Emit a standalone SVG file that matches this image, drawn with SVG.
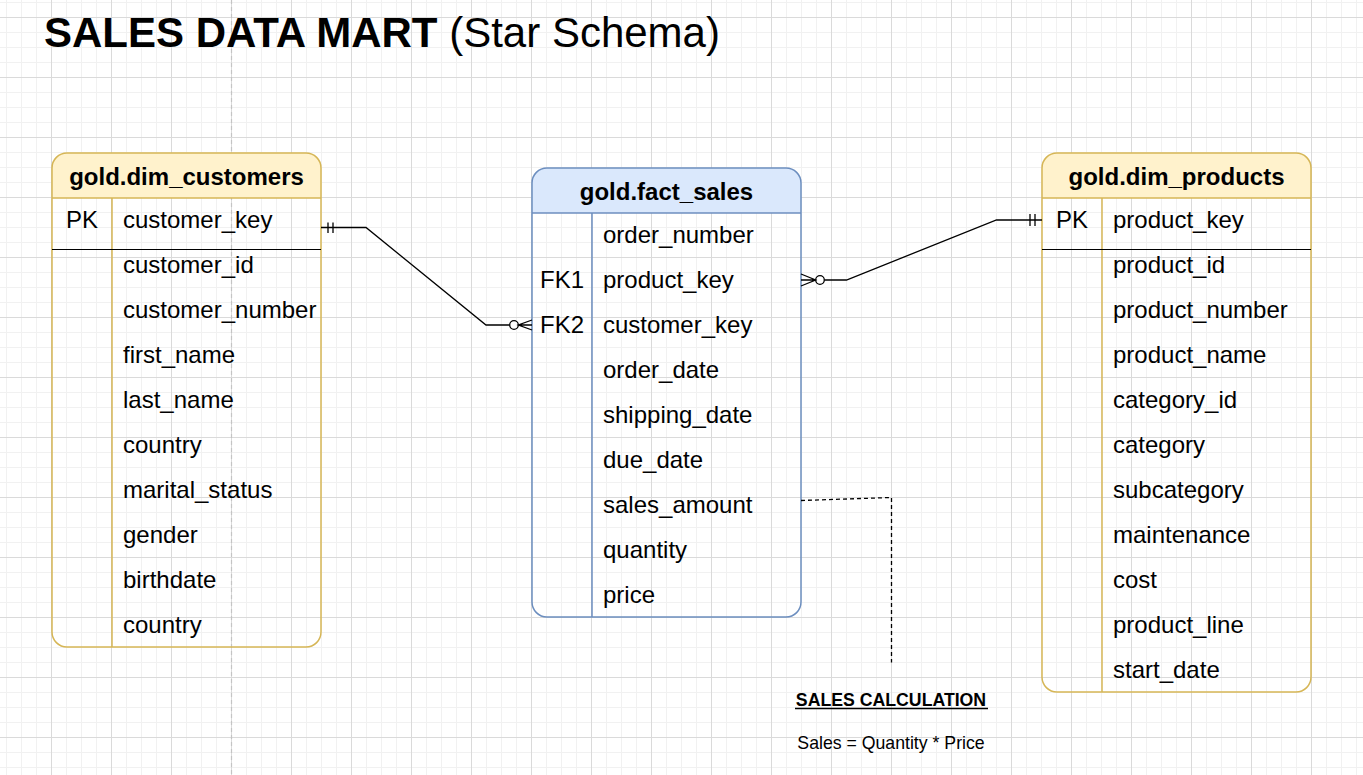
<svg xmlns="http://www.w3.org/2000/svg" width="1363" height="775" viewBox="0 0 1363 775">
  <defs>
    <pattern id="grid" x="51" y="17" width="60" height="60" patternUnits="userSpaceOnUse">
      <path d="M15.5 0V60M30.5 0V60M45.5 0V60M0 15.5H60M0 30.5H60M0 45.5H60" stroke="#f1f1f1" stroke-width="1" fill="none"/>
      <path d="M0.5 0V60M0 0.5H60" stroke="#dadada" stroke-width="1" fill="none"/>
    </pattern>
  </defs>
  <style>
    text { font-family: "Liberation Sans", Arial, sans-serif; fill: #000; }
    .hdr { font-size: 24px; font-weight: bold; text-anchor: middle; }
    .row { font-size: 24px; }
    .key { font-size: 24px; text-anchor: middle; }
    .y-head { fill: #fff2cc; stroke: none; }
    .y-line { fill: none; stroke: #d6b656; stroke-width: 1.5; }
    .b-head { fill: #dae8fc; stroke: none; }
    .b-line { fill: none; stroke: #6c8ebf; stroke-width: 1.5; }
    .sep { stroke: #000; stroke-width: 1.2; }
    .conn { fill: none; stroke: #000; stroke-width: 1.3; }
    .circ { fill: #fff; stroke: #000; stroke-width: 1.3; }
  </style>

  <rect width="1363" height="775" fill="#fff"/>
  <rect width="1363" height="775" fill="url(#grid)"/>
  <line x1="231.5" y1="0" x2="231.5" y2="775" stroke="#c4c4c4" stroke-width="1.2" stroke-dasharray="4 3"/>

  <g id="title">
    <text x="44" y="47" font-size="42"><tspan font-weight="bold">SALES DATA MART</tspan> (Star Schema)</text>
  </g>

  <g id="dim_customers">
    <path class="y-head" d="M52 198V168A15 15 0 0 1 67 153H306A15 15 0 0 1 321 168V198Z"/>
    <rect class="y-line" x="52" y="153" width="269" height="494" rx="15"/>
    <line class="y-line" x1="52" y1="198" x2="321" y2="198"/>
    <line class="y-line" x1="112" y1="198" x2="112" y2="647"/>
    <line class="sep" x1="52" y1="249.5" x2="321" y2="249.5"/>
    <text class="hdr" x="186.5" y="185">gold.dim_customers</text>
    <text class="key" x="82" y="228">PK</text>
    <text class="row" x="123" y="228">customer_key</text>
    <text class="row" x="123" y="273">customer_id</text>
    <text class="row" x="123" y="318">customer_number</text>
    <text class="row" x="123" y="363">first_name</text>
    <text class="row" x="123" y="408">last_name</text>
    <text class="row" x="123" y="453">country</text>
    <text class="row" x="123" y="498">marital_status</text>
    <text class="row" x="123" y="543">gender</text>
    <text class="row" x="123" y="588">birthdate</text>
    <text class="row" x="123" y="633">country</text>
  </g>

  <g id="fact_sales">
    <path class="b-head" d="M532 213V183A15 15 0 0 1 547 168H786A15 15 0 0 1 801 183V213Z"/>
    <rect class="b-line" x="532" y="168" width="269" height="449" rx="15"/>
    <line class="b-line" x1="532" y1="213" x2="801" y2="213"/>
    <line class="b-line" x1="592" y1="213" x2="592" y2="617"/>
    <text class="hdr" x="666.5" y="200">gold.fact_sales</text>
    <text class="row" x="603" y="243">order_number</text>
    <text class="key" x="562" y="288">FK1</text>
    <text class="row" x="603" y="288">product_key</text>
    <text class="key" x="562" y="333">FK2</text>
    <text class="row" x="603" y="333">customer_key</text>
    <text class="row" x="603" y="378">order_date</text>
    <text class="row" x="603" y="423">shipping_date</text>
    <text class="row" x="603" y="468">due_date</text>
    <text class="row" x="603" y="513">sales_amount</text>
    <text class="row" x="603" y="558">quantity</text>
    <text class="row" x="603" y="603">price</text>
  </g>

  <g id="dim_products">
    <path class="y-head" d="M1042 198V168A15 15 0 0 1 1057 153H1296A15 15 0 0 1 1311 168V198Z"/>
    <rect class="y-line" x="1042" y="153" width="269" height="539" rx="15"/>
    <line class="y-line" x1="1042" y1="198" x2="1311" y2="198"/>
    <line class="y-line" x1="1102" y1="198" x2="1102" y2="692"/>
    <line class="sep" x1="1042" y1="249.5" x2="1311" y2="249.5"/>
    <text class="hdr" x="1176.5" y="185">gold.dim_products</text>
    <text class="key" x="1072" y="228">PK</text>
    <text class="row" x="1113" y="228">product_key</text>
    <text class="row" x="1113" y="273">product_id</text>
    <text class="row" x="1113" y="318">product_number</text>
    <text class="row" x="1113" y="363">product_name</text>
    <text class="row" x="1113" y="408">category_id</text>
    <text class="row" x="1113" y="453">category</text>
    <text class="row" x="1113" y="498">subcategory</text>
    <text class="row" x="1113" y="543">maintenance</text>
    <text class="row" x="1113" y="588">cost</text>
    <text class="row" x="1113" y="633">product_line</text>
    <text class="row" x="1113" y="678">start_date</text>
  </g>

  <g id="connectors">
    <path class="conn" d="M321 227.5H366L486 325H509.7"/>
    <path class="conn" d="M328 222.5V233M333 222.5V233"/>
    <circle class="circ" cx="514" cy="325" r="4.3"/>
    <path class="conn" d="M532 320L518.3 325L532 330M518.3 325H532"/>

    <path class="conn" d="M824.3 280H846.5L996.5 220H1042"/>
    <path class="conn" d="M1030 214V226M1035 214V226"/>
    <circle class="circ" cx="820" cy="280" r="4.3"/>
    <path class="conn" d="M801 274L815.7 280L801 286M801 280H815.7"/>

    <path class="conn" d="M801 500.5L891.5 497.5V662.5" stroke-dasharray="4 3"/>
  </g>

  <g id="sales_calculation">
    <text x="891" y="706" font-size="17.7" font-weight="bold" text-anchor="middle">SALES CALCULATION</text>
    <line x1="795" y1="708.5" x2="988" y2="708.5" stroke="#000" stroke-width="1.3"/>
    <text x="891" y="749" font-size="17.7" text-anchor="middle">Sales = Quantity * Price</text>
  </g>
</svg>
